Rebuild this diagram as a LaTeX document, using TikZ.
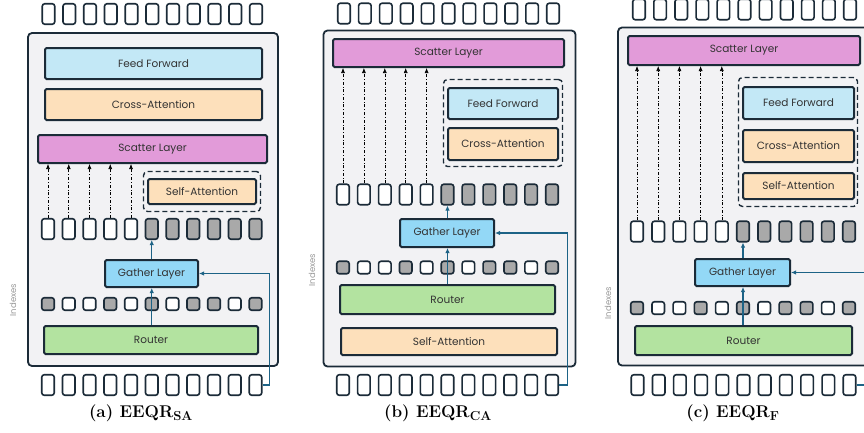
\documentclass[tikz,border=0pt]{standalone}
\usepackage{fontspec}
\usepackage{amsmath}
\usetikzlibrary{arrows.meta, positioning, calc}
\newfontfamily\boxfont{Poppins}
\newcommand{\capsub}[1]{$_{\text{\fontsize{13}{14}\selectfont\bfseries #1}}$}
\definecolor{edge}{HTML}{1B2B38}
\definecolor{panelbg}{HTML}{F2F2F4}
\definecolor{ffblue}{HTML}{C3E8F6}
\definecolor{attnorange}{HTML}{FDE0BB}
\definecolor{scatterpink}{HTML}{E29BD9}
\definecolor{gatherblue}{HTML}{93D8F6}
\definecolor{routergreen}{HTML}{B3E3A0}
\definecolor{tokgray}{HTML}{A9A9A9}
\definecolor{linkteal}{HTML}{1D6386}
\definecolor{labeltext}{HTML}{333333}

\begin{document}
\begin{tikzpicture}[
  x=1pt, y=-1pt,
  layer/.style={rectangle, draw=edge, line width=2pt, rounded corners=1.5pt, inner sep=0pt,
                align=center, text=labeltext, font=\boxfont\fontsize{10.5}{12}\selectfont},
  ff/.style={layer, fill=ffblue},
  attn/.style={layer, fill=attnorange},
  scatter/.style={layer, fill=scatterpink},
  gather/.style={layer, fill=gatherblue},
  router/.style={layer, fill=routergreen},
  panel/.style={rectangle, draw=edge, line width=1.8pt, rounded corners=4pt, fill=panelbg, inner sep=0pt},
  group/.style={rectangle, draw=edge, line width=1.4pt, dash pattern=on 5pt off 3pt, rounded corners=4pt, inner sep=0pt},
  tok/.style={rectangle, draw=edge, line width=1.6pt, rounded corners=2.5pt, fill=white,
              minimum width=12.5pt, minimum height=20.5pt, inner sep=0pt},
  tokg/.style={tok, fill=tokgray},
  idx/.style={tok, minimum height=12.5pt},
  idxg/.style={idx, fill=tokgray},
  scatterarrow/.style={-{Latex[length=5pt,width=4pt]}, line width=0.6pt,
                       dash pattern=on 3pt off 2pt on 0.6pt off 2pt},
  linkarrow/.style={-{Latex[length=5pt,width=4.5pt]}, draw=linkteal, line width=1.1pt},
  idxlabel/.style={rotate=90, text=gray!80, font=\boxfont\fontsize{8.5}{10}\selectfont},
  caption/.style={font=\bfseries\fontsize{17}{20}\selectfont}
]
\useasboundingbox (0,0) rectangle (864,432);
\clip (0,0) rectangle (864,432);

% (a)
\node[panel, minimum width=250pt, minimum height=333pt] (apanel) at (153,199.5) {};
\foreach \i in {1,...,11}
  \node[tok] (at\i) at ({48.5+20.75*(\i-1)},14) {};
\node[ff, minimum width=217pt, minimum height=31pt] (aff) at (153.5,63.5) {Feed Forward};
\node[attn, minimum width=217pt, minimum height=31pt] (aca) at (153.5,104.5) {Cross-Attention};
\node[scatter, minimum width=229pt, minimum height=28pt] (ascatter) at (152.5,149) {Scatter Layer};
\node[group, minimum width=117pt, minimum height=40pt] (agroup) at (202,191.5) {};
\node[attn, minimum width=108pt, minimum height=25pt] (asa) at (202,191.5) {Self-Attention};
\foreach \s [count=\i] in {tok,tok,tok,tok,tok,tokg,tokg,tokg,tokg,tokg,tokg}
  \node[\s] (am\i) at ({48+20.75*(\i-1)},229) {};
\node[gather, minimum width=93pt, minimum height=27pt] (agather) at (151.5,273.5) {Gather Layer};
\foreach \s [count=\i] in {idxg,idx,idx,idxg,idx,idxg,idx,idxg,idxg,idx,idxg}
  \node[\s] (ai\i) at ({48+20.75*(\i-1)},304) {};
\node[router, minimum width=214pt, minimum height=28pt] (arouter) at (151,340) {Router};
\foreach \i in {1,...,11}
  \node[tok] (ab\i) at ({48+20.75*(\i-1)},385) {};
\node[idxlabel] (aidxlabel) at (13,300) {Indexes};
\node[caption] (acap) at (141,413) {(a) EEQR\capsub{SA}};
\foreach \i in {1,...,5}
  \draw[scatterarrow] (am\i.north) -- (am\i.north |- ascatter.south);
\draw[linkarrow] (ai6 |- arouter.north) -- (ai6 |- agather.south);
\draw[linkarrow] (am6 |- agather.north) -- (am6.south);
\draw[linkarrow] (ab11.east) -- ++(7,0) |- (agather.east);

% (b)
\node[panel, minimum width=252pt, minimum height=336pt] (bpanel) at (449.5,198.5) {};
\foreach \i in {1,...,11}
  \node[tok] (bt\i) at ({344+20.9*(\i-1)},13.5) {};
\node[scatter, minimum width=231pt, minimum height=28pt] (bscatter) at (448.5,53) {Scatter Layer};
\node[group, minimum width=119pt, minimum height=87pt] (bgroup) at (503,123) {};
\node[ff, minimum width=110pt, minimum height=31pt] (bff) at (503,103.5) {Feed Forward};
\node[attn, minimum width=110pt, minimum height=32pt] (bca) at (503,144) {Cross-Attention};
\foreach \s [count=\i] in {tok,tok,tok,tok,tok,tokg,tokg,tokg,tokg,tokg,tokg}
  \node[\s] (bm\i) at ({343+20.9*(\i-1)},194.5) {};
\node[gather, minimum width=94pt, minimum height=28pt] (bgather) at (447,233) {Gather Layer};
\foreach \s [count=\i] in {idxg,idx,idx,idxg,idx,idxg,idx,idxg,idxg,idx,idxg}
  \node[\s] (bi\i) at ({343+20.9*(\i-1)},267.5) {};
\node[router, minimum width=215pt, minimum height=29pt] (brouter) at (447.5,299.5) {Router};
\node[attn, minimum width=216pt, minimum height=27pt] (bsa) at (449,341.5) {Self-Attention};
\foreach \i in {1,...,11}
  \node[tok] (bb\i) at ({343+20.9*(\i-1)},385) {};
\node[idxlabel] (bidxlabel) at (312,270) {Indexes};
\node[caption] (bcap) at (438,413) {(b) EEQR\capsub{CA}};
\foreach \i in {1,...,5}
  \draw[scatterarrow] (bm\i.north) -- (bm\i.north |- bscatter.south);
\draw[linkarrow] (bi6 |- brouter.north) -- (bi6 |- bgather.south);
\draw[linkarrow] (bm6 |- bgather.north) -- (bm6.south);
\draw[linkarrow] (bb11.east) -- ++(8,0) |- (bgather.east);

% (c)
\node[panel, minimum width=262pt, minimum height=338pt] (cpanel) at (749,196.5) {};
\foreach \i in {1,...,11}
  \node[tok] (ct\i) at ({639+21.1*(\i-1)},9.5) {};
\node[scatter, minimum width=232pt, minimum height=29pt] (cscatter) at (744,50.5) {Scatter Layer};
\node[group, minimum width=119pt, minimum height=129pt] (cgroup) at (798,142) {};
\node[ff, minimum width=111pt, minimum height=32pt] (cff) at (798.5,103) {Feed Forward};
\node[attn, minimum width=111pt, minimum height=32pt] (cca) at (798.5,146) {Cross-Attention};
\node[attn, minimum width=111pt, minimum height=26pt] (csa) at (798.5,186) {Self-Attention};
\foreach \s [count=\i] in {tok,tok,tok,tok,tok,tokg,tokg,tokg,tokg,tokg,tokg}
  \node[\s] (cm\i) at ({637+21.2*(\i-1)},231.5) {};
\node[gather, minimum width=95pt, minimum height=27pt] (cgather) at (742.5,272.5) {Gather Layer};
\foreach \s [count=\i] in {idxg,idx,idx,idxg,idx,idxg,idx,idxg,idxg,idx,idxg}
  \node[\s] (ci\i) at ({637+21.2*(\i-1)},308) {};
\node[router, minimum width=217pt, minimum height=29pt] (crouter) at (743.5,340.5) {Router};
\foreach \i in {1,...,11}
  \node[tok] (cb\i) at ({637.5+21.2*(\i-1)},385) {};
\node[idxlabel] (cidxlabel) at (608,303) {Indexes};
\node[caption] (ccap) at (733,413) {(c) EEQR\capsub{F}};
\foreach \i in {1,...,5}
  \draw[scatterarrow] (cm\i.north) -- (cm\i.north |- cscatter.south);
\draw[linkarrow] (ci6 |- crouter.north) -- (ci6 |- cgather.south);
\draw[linkarrow] (cm6 |- cgather.north) -- (cm6.south);
\draw[linkarrow] (cb11.east) -- ++(14,0) |- (cgather.east);
\end{tikzpicture}
\end{document}
